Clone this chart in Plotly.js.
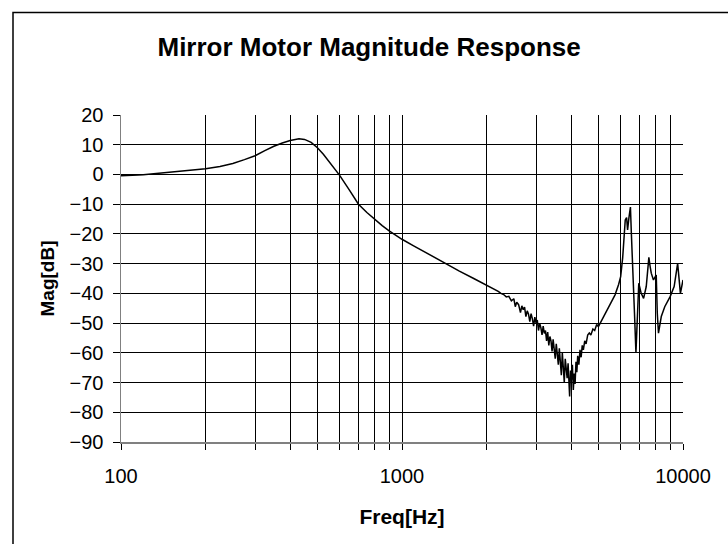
<!DOCTYPE html>
<html>
<head>
<meta charset="utf-8">
<script src="https://cdn.plot.ly/plotly-3.0.1.min.js"></script>
<style>html,body{margin:0;padding:0;background:#fff;}#chart{width:728px;height:544px;}</style>
</head>
<body>
<div id="chart"></div>
<script>
const freq = [100,105,110,115,120,130,140,150,160,175,200,225,250,275,300,325,350,375,400,430,450,475,500,525,550,575,600,650,700,750,800,850,900,950,1000,1100,1200,1300,1443,1600,1800,2000,2100,2200,2250,2300,2350,2400,2450,2500,2530,2560,2600,2640,2670,2700,2730,2760,2790,2820,2850,2880,2910,2940,2970,3000,3030,3060,3090,3120,3150,3180,3210,3240,3270,3300,3330,3360,3390,3420,3450,3480,3510,3540,3570,3600,3630,3660,3690,3720,3750,3780,3810,3840,3870,3900,3930,3950,3980,4010,4040,4070,4100,4130,4160,4190,4220,4260,4300,4340,4380,4420,4470,4520,4580,4640,4700,4780,4850,4930,5000,5200,5370,5550,5730,5900,6000,6100,6150,6230,6300,6350,6420,6500,6550,6630,6720,6800,6880,6960,7100,7240,7400,7480,7560,7640,7710,7850,8030,8100,8180,8370,8610,9000,9300,9570,9700,9790,10000];
const mag = [-0.4,-0.4,-0.3,-0.2,-0.1,0.2,0.6,0.9,1.2,1.5,1.9,2.7,3.7,5.0,6.3,8.0,9.5,10.6,11.4,12.0,11.8,10.8,9.0,6.8,4.4,2.0,-0.3,-5.3,-10,-12.8,-15.2,-17.2,-19,-20.5,-21.8,-24,-26,-27.9,-30.2,-32.5,-35,-37.2,-38.5,-39.3,-40.0,-40.4,-41.2,-41.0,-42.5,-41.8,-44.5,-43.0,-43.8,-46.5,-44.2,-45.5,-44.6,-47.8,-45.9,-47.0,-49.5,-46.8,-48.5,-51.0,-48.0,-50.0,-49.0,-52.5,-50.0,-51.5,-54.0,-51.0,-53.5,-52.5,-56.0,-53.0,-57.5,-54.5,-56.0,-59.5,-55.5,-58.0,-62.0,-57.0,-60.5,-64.0,-58.5,-62.0,-67.5,-60.0,-64.5,-70.0,-62.0,-66.0,-68.5,-63.5,-71.0,-74.7,-66.0,-69.0,-64.0,-72.5,-67.0,-70.5,-63.0,-66.5,-61.0,-64.0,-59.0,-61.5,-57.5,-59.0,-56.0,-57.0,-54.0,-53.3,-54.0,-52.0,-52.5,-50.5,-51.2,-48,-45.6,-43,-40.5,-37,-34.4,-28,-24,-15.3,-14.5,-18.7,-14.6,-11,-19.8,-35.5,-46.7,-60,-45,-36.6,-40,-41.7,-37.7,-32,-27.9,-31,-33.2,-35.5,-33.8,-46.7,-53.4,-47.8,-44.5,-41.1,-37.7,-29.9,-36,-40,-35.5];
const xTickVals = [100,200,300,400,500,600,700,800,900,1000,2000,3000,4000,5000,6000,7000,8000,9000,10000];
const xTickText = ['100','','','','','','','','','1000','','','','','','','','','10000'];
const yTickVals = [20,10,0,-10,-20,-30,-40,-50,-60,-70,-80,-90];

const FONT = 'Liberation Sans, Arial, sans-serif';
const trace = {
  x: freq, y: mag, type: 'scatter', mode: 'lines',
  line: {color: '#000', width: 1.5}, hoverinfo: 'skip'
};
const layout = {
  width: 728, height: 544,
  margin: {l: 121, r: 45, t: 115, b: 102},
  paper_bgcolor: '#fff', plot_bgcolor: '#fff',
  showlegend: false,
  font: {family: FONT, color: '#000', size: 20},
  title: {text: '<b>Mirror Motor Magnitude Response</b>', font: {family: FONT, size: 26, color: '#000'},
          xref: 'container', yref: 'container', x: 0.507, xanchor: 'center', y: 1 - 47/544, yanchor: 'middle'},
  xaxis: {
    type: 'log', range: [2, 4], tickmode: 'array', tickvals: xTickVals, ticktext: xTickText,
    showgrid: true, gridcolor: '#000', gridwidth: 1,
    showline: true, linecolor: '#808080', linewidth: 1.5,
    ticks: 'outside', ticklen: 6, tickcolor: '#000', tickwidth: 1,
    ticklabelstandoff: 9,
    tickfont: {family: FONT, size: 20, color: '#000'},
    title: {text: '<b>Freq[Hz]</b>', font: {family: FONT, size: 21, color: '#000'}, standoff: 24},
    zeroline: false, fixedrange: true
  },
  yaxis: {
    range: [-90, 20], tickmode: 'array', tickvals: yTickVals,
    showgrid: true, gridcolor: '#000', gridwidth: 1,
    showline: true, linecolor: '#808080', linewidth: 1.5,
    ticks: 'outside', ticklen: 7, tickcolor: '#000', tickwidth: 1,
    ticklabelstandoff: 5,
    tickfont: {family: FONT, size: 20, color: '#000'},
    title: {text: '<b>Mag[dB]</b>', font: {family: FONT, size: 19, color: '#000'}, standoff: 10},
    zeroline: false, fixedrange: true
  },
  shapes: [{
    type: 'rect', xref: 'paper', yref: 'paper',
    x0: (13 - 121) / 562, x1: (740 - 121) / 562,
    y0: (442 - 560) / 327, y1: (442 - 12.5) / 327,
    line: {color: '#000', width: 1.5}, fillcolor: 'rgba(0,0,0,0)', layer: 'below'
  }]
};
Plotly.newPlot('chart', [trace], layout, {displayModeBar: false, staticPlot: true});
</script>
</body>
</html>
